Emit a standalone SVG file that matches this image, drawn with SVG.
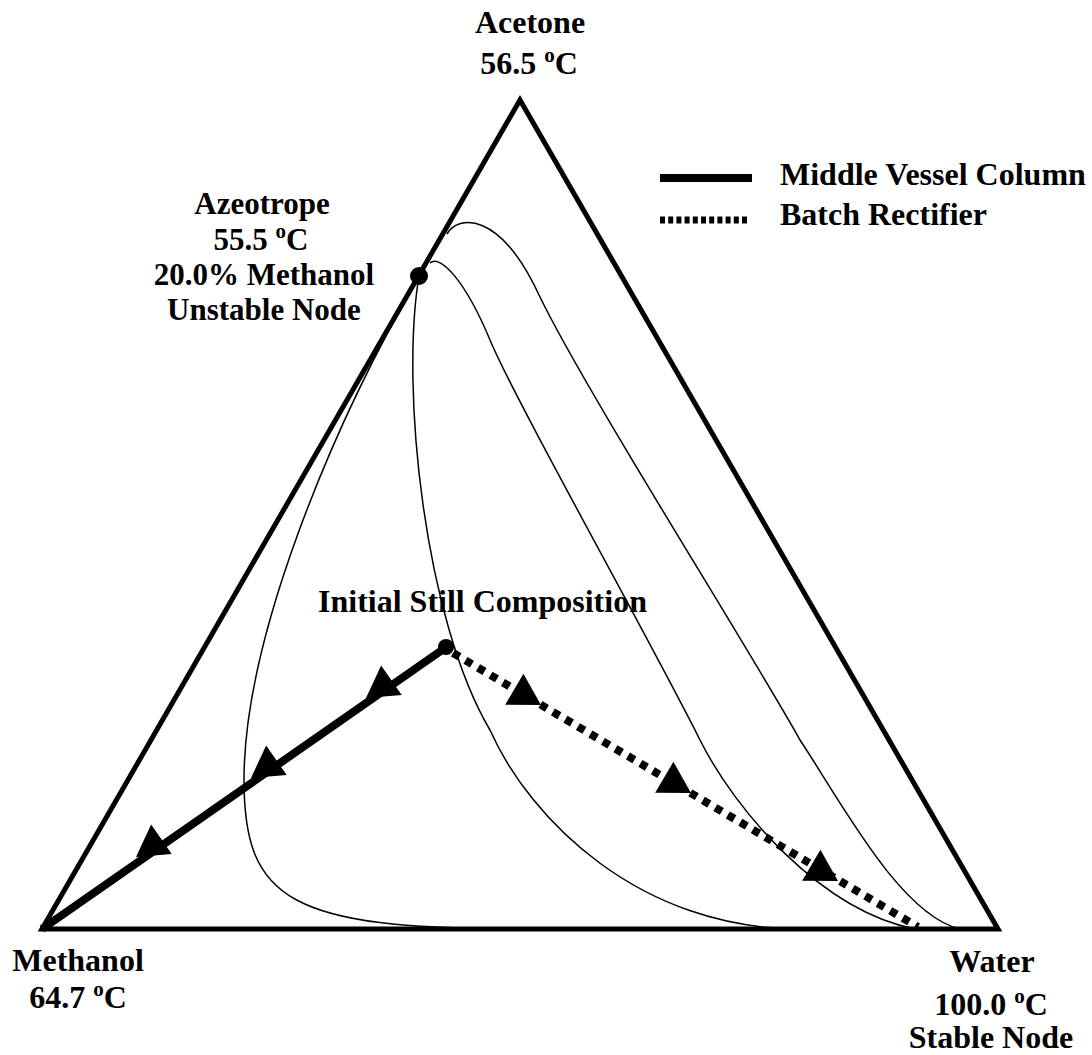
<svg xmlns="http://www.w3.org/2000/svg" width="1092" height="1055" viewBox="0 0 1092 1055">
<style>
text{font-family:"Liberation Serif","Times New Roman",serif;font-weight:bold;font-size:32px;fill:#000}
.mid{text-anchor:middle}
.az{font-size:31px}
.sup{font-size:21px}
.edge{fill:none;stroke:#000;stroke-width:5;stroke-linejoin:miter}
.curve{fill:none;stroke:#000;stroke-width:1.5}
.solid{fill:none;stroke:#000;stroke-width:8}
.dash{fill:none;stroke:#000;stroke-width:8;stroke-dasharray:7.5 7}
</style>
<defs>
<path id="ah" d="M0,0 L-31,-18 L-31,18 Z" fill="#000"/>
</defs>
<rect width="1092" height="1055" fill="#fff"/>
<g id="triangle">
<path class="edge" d="M42,929 L520,100 L998,929 Z"/>
</g>
<g id="connectors">
<path class="curve" d="M419,276 C330,430 244,640 244,780 C244,900 290,929 520,929 L990,929"/>
<path class="curve" d="M419,276 C400,390 425,620 490,730 C530,820 640,929 800,929"/>
<path class="curve" d="M430,263 C440,254 465,280 490,340 C515,400 650,640 700,740 C735,810 820,910 915,929"/>
<path class="curve" d="M447,234 C458,215 500,210 540,297 C585,390 750,650 800,740 C840,800 900,915 960,929"/>
<path class="solid" d="M445,648 L42,929"/>
<path class="dash" d="M453,653 L918,927"/>
<use href="#ah" transform="translate(366,698) rotate(145.1)"/>
<use href="#ah" transform="translate(251,778) rotate(145.1)"/>
<use href="#ah" transform="translate(136,857) rotate(145.1)"/>
<use href="#ah" transform="translate(541,705) rotate(30.5)"/>
<use href="#ah" transform="translate(691,793) rotate(30.5)"/>
<use href="#ah" transform="translate(838,881) rotate(30.5)"/>
</g>
<g id="acetone">
<text class="mid" x="530" y="33">Acetone</text>
<text class="mid" x="529" y="74">56.5 <tspan class="sup" dy="-12">o</tspan><tspan dy="12">C</tspan></text>
</g>
<g id="azeotrope">
<circle cx="419" cy="276" r="9" fill="#000"/>
<text class="mid az" x="262" y="214">Azeotrope</text>
<text class="mid az" x="261" y="250">55.5 <tspan class="sup" dy="-12">o</tspan><tspan dy="12">C</tspan></text>
<text class="mid az" x="264" y="285">20.0% Methanol</text>
<text class="mid az" x="264" y="320">Unstable Node</text>
</g>
<g id="initial-still">
<circle cx="446" cy="647" r="8" fill="#000"/>
<text x="318" y="612">Initial Still Composition</text>
</g>
<g id="methanol">
<text class="mid" x="78" y="971">Methanol</text>
<text class="mid" x="78" y="1008">64.7 <tspan class="sup" dy="-12">o</tspan><tspan dy="12">C</tspan></text>
</g>
<g id="water">
<text class="mid" x="992" y="972">Water</text>
<text class="mid" x="991" y="1015">100.0 <tspan class="sup" dy="-12">o</tspan><tspan dy="12">C</tspan></text>
<text class="mid" x="991" y="1048">Stable Node</text>
</g>
<g id="legend">
<line x1="660" y1="178" x2="752" y2="178" stroke="#000" stroke-width="8"/>
<line x1="660" y1="220" x2="750" y2="220" stroke="#000" stroke-width="7" stroke-dasharray="5 3.2"/>
<text x="780" y="185">Middle Vessel Column</text>
<text x="780" y="225">Batch Rectifier</text>
</g>
</svg>
